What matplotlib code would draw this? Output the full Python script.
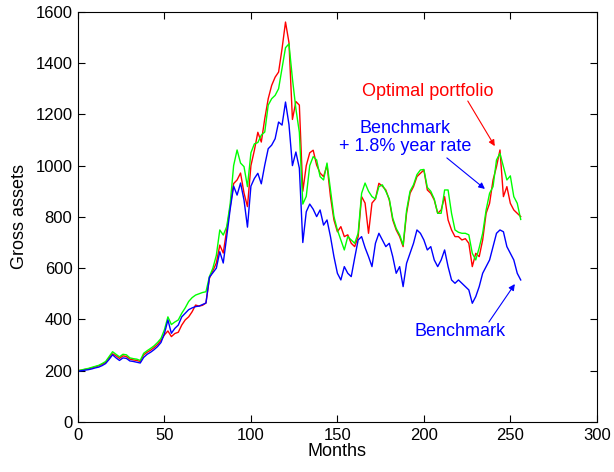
import numpy as np
import matplotlib
matplotlib.use("Agg")
import matplotlib.pyplot as plt

plt.rcParams['font.family'] = ['Liberation Sans', 'DejaVu Sans']

# Monthly gross assets, sampled every 2 months
months = np.arange(0, 258, 2)

optimal = [
    200, 202, 205, 207, 211, 215, 219, 225, 232, 250,
    266, 258, 248, 258, 255, 245, 242, 240, 236, 262,
    272, 280, 290, 302, 318, 340, 355, 333, 345, 350,
    378, 398, 410, 430, 456, 452, 455, 464, 560, 590,
    620, 690, 659, 749, 840, 930, 944, 971, 893, 840,
    1000, 1060, 1130, 1092, 1183, 1261, 1313, 1345, 1365, 1456,
    1560, 1480, 1180, 1250, 1236, 900, 1000, 1050, 1060, 1002,
    971, 957, 1002, 879, 788, 742, 762, 723, 730, 697,
    684, 723, 879, 854, 736, 854, 870, 931, 920, 905,
    866, 788, 749, 723, 684, 814, 892, 918, 957, 970,
    983, 905, 892, 866, 814, 827, 879, 788, 749, 723,
    723, 710, 715, 697, 606, 658, 645, 710, 814, 853,
    944, 996, 1061, 879, 918, 853, 827, 814, 801,
]

benchmark_plus = [
    200, 203, 206, 209, 213, 217, 221, 228, 236, 255,
    274, 264, 254, 264, 262, 250, 247, 245, 240, 268,
    278, 287, 297, 310, 326, 360, 410, 380, 390, 398,
    424, 445, 470, 485, 495, 500, 505, 508, 567, 600,
    650, 749, 729, 762, 850, 1000, 1061, 1010, 996, 918,
    1050, 1085, 1090, 1119, 1131, 1236, 1261, 1274, 1300, 1380,
    1460, 1475, 1339, 1222, 1130, 850, 880, 1000, 1035, 1022,
    957, 944, 1010, 905, 801, 749, 710, 671, 723, 710,
    697, 736, 892, 932, 900, 879, 870, 918, 925, 900,
    870, 795, 755, 730, 690, 825, 900, 925, 965, 983,
    985, 915, 900, 870, 814, 814, 905, 905, 814, 749,
    740, 736, 736, 730, 658, 632, 680, 736, 827, 892,
    918, 1022, 1048, 996, 944, 960, 879, 853, 790,
]

benchmark = [
    198, 200, 202, 204, 207, 211, 214, 220, 228, 244,
    262, 250, 240, 250, 248, 238, 236, 233, 230, 252,
    264, 272, 282, 294, 310, 345, 398, 346, 365, 378,
    410, 424, 438, 445, 450, 452, 458, 464, 565, 582,
    600, 664, 620, 723, 830, 920, 885, 932, 866, 760,
    920, 950, 970, 929, 1002, 1066, 1080, 1105, 1170, 1158,
    1248, 1160, 1000, 1053, 990, 700, 820, 850, 830, 801,
    827, 768, 788, 723, 645, 580, 554, 606, 580, 567,
    640, 710, 723, 680, 645, 606, 697, 736, 710, 684,
    697, 645, 580, 606, 528, 619, 658, 697, 749, 736,
    710, 671, 684, 632, 606, 632, 671, 606, 554, 541,
    554, 541, 528, 515, 463, 489, 528, 580, 606, 632,
    684, 736, 749, 742, 684, 658, 632, 580, 554,
]

fig = plt.figure(figsize=(6.14, 4.72), dpi=100)
ax = fig.add_axes([0.127, 0.106, 0.845, 0.869])

ax.plot(months, optimal, color=(1, 0, 0), lw=1.0)
ax.plot(months, benchmark_plus, color=(0, 1, 0), lw=1.0)
ax.plot(months, benchmark, color=(0, 0, 1), lw=1.0)

ax.set_xlim(0, 300)
ax.set_ylim(0, 1600)
ax.set_xticks(np.arange(0, 301, 50))
ax.set_yticks(np.arange(0, 1601, 200))
ax.tick_params(direction='in', length=5, width=0.8, top=True, right=True,
               labelsize=12, pad=4)
for s in ax.spines.values():
    s.set_linewidth(0.8)

ax.set_xlabel('Months', fontsize=13, labelpad=0)
ax.set_ylabel('Gross assets', fontsize=13, labelpad=5)

arrow_kw = dict(arrowstyle='-|>', lw=0.8, mutation_scale=9, shrinkA=0, shrinkB=0)

ax.text(202.3, 1291, 'Optimal portfolio', color='red', fontsize=13,
        ha='center', va='center')
ax.annotate('', xy=(241, 1076), xytext=(225.4, 1252),
            arrowprops=dict(color='red', **arrow_kw))

ax.text(189, 1111, 'Benchmark\n+ 1.8% year rate', color='blue', fontsize=13,
        ha='center', va='center', linespacing=1.1)
ax.annotate('', xy=(235.3, 909), xytext=(213.3, 1030),
            arrowprops=dict(color='blue', **arrow_kw))

ax.text(220.8, 351, 'Benchmark', color='blue', fontsize=13,
        ha='center', va='center')
ax.annotate('', xy=(252.6, 538), xytext=(237.6, 390),
            arrowprops=dict(color='blue', **arrow_kw))

fig.savefig('out.png', dpi=100)
